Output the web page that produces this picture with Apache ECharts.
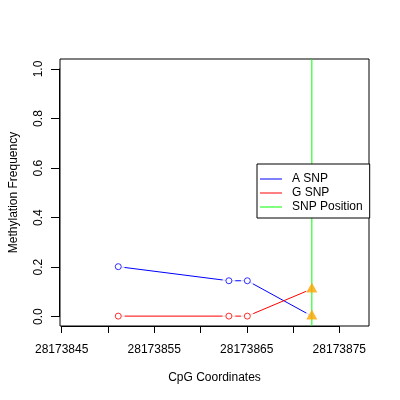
<!DOCTYPE html>
<html>
<head>
<meta charset="utf-8">
<script src="https://cdn.jsdelivr.net/npm/echarts@6/dist/echarts.min.js"></script>
<style>
html,body{margin:0;padding:0;background:#fff;}
#main{width:400px;height:400px;}
</style>
</head>
<body>
<div id="main"></div>
<script>
// data
var positions = [28173851, 28173863, 28173865, 28173872];
var aSnp = [0.2, 0.143, 0.143, 0.0];
var gSnp = [0.0, 0.0, 0.0, 0.11];
var snpPosition = 28173872;
var xTicks = [28173845, 28173855, 28173865, 28173875];
var yTicks = [0, 0.2, 0.4, 0.6, 0.8, 1.0];

var FONT = 'Liberation Sans';
var chart = echarts.init(document.getElementById('main'), null, {renderer: 'canvas'});

function pairs(xs, ys) {
    return xs.map(function (x, i) { return [x, ys[i]]; });
}
var last = positions.length - 1;
// R "b" type: open circles on all but the SNP point, triangle at the SNP
var aPts = pairs(positions, aSnp);
var gPts = pairs(positions, gSnp);
var aCircles = aPts.slice(0, last);
var gCircles = gPts.slice(0, last);
var snpMarks = [aPts[last], gPts[last]];

var xMin = 28173844.68, xMax = 28173878.2;
var yMin = -0.04, yMax = 1.04;

var option = {
    animation: false,
    backgroundColor: '#fff',
    textStyle: {fontFamily: FONT},
    grid: [
        // plot box
        {left: 59, right: 31, top: 59, bottom: 74, show: true, borderColor: '#000', borderWidth: 1, backgroundColor: 'transparent'},
        // x axis ticks (845..875)
        {left: 61.7, width: 277.6, top: 59, bottom: 74},
        // y axis ticks (0..1)
        {left: 59, right: 31, top: 69, bottom: 83.3}
    ],
    xAxis: [
        {gridIndex: 0, type: 'value', min: xMin, max: xMax,
         axisLine: {show: false}, axisTick: {show: false}, axisLabel: {show: false}, splitLine: {show: false},
         name: 'CpG Coordinates', nameLocation: 'middle', nameGap: 46,
         nameTextStyle: {fontFamily: FONT, fontSize: 12, color: '#000'}},
        {gridIndex: 1, type: 'value', min: xTicks[0], max: xTicks[xTicks.length - 1], interval: 5,
         axisLine: {show: true, lineStyle: {color: '#000', width: 1}},
         axisTick: {show: true, length: 7, lineStyle: {color: '#000'}},
         splitLine: {show: false},
         axisLabel: {show: true, margin: 18, fontFamily: FONT, fontSize: 12, color: '#000',
             formatter: function (v) { return xTicks.indexOf(v) >= 0 ? String(v) : ''; }}},
        {gridIndex: 2, type: 'value', show: false, min: 0, max: 1}
    ],
    yAxis: [
        {gridIndex: 0, type: 'value', min: yMin, max: yMax,
         axisLine: {show: false}, axisTick: {show: false}, axisLabel: {show: false}, splitLine: {show: false},
         name: 'Methylation Frequency', nameLocation: 'middle', nameGap: 40, nameRotate: 90,
         nameTextStyle: {fontFamily: FONT, fontSize: 12, color: '#000'}},
        {gridIndex: 1, type: 'value', show: false, min: 0, max: 1},
        {gridIndex: 2, type: 'value', min: yTicks[0], max: yTicks[yTicks.length - 1], interval: 0.2,
         axisLine: {show: true, lineStyle: {color: '#000', width: 1}},
         axisTick: {show: true, length: 8, lineStyle: {color: '#000'}},
         splitLine: {show: false},
         axisLabel: {show: true, rotate: 90, margin: 14, fontFamily: FONT, fontSize: 12, color: '#000',
             formatter: function (v) { return v.toFixed(1); }}}
    ],
    legend: {
        orient: 'vertical',
        left: 257, top: 164,
        backgroundColor: '#fff',
        borderColor: '#000', borderWidth: 1, borderRadius: 0,
        padding: [8, 7, 4, 3],
        itemGap: 0,
        itemWidth: 22, itemHeight: 1,
        icon: 'rect',
        textStyle: {fontFamily: FONT, fontSize: 12, color: '#000', lineHeight: 14, padding: [0, 0, 0, 5]},
        data: ['A SNP', 'G SNP', 'SNP Position']
    },
    series: [
        {name: 'A SNP', type: 'line', xAxisIndex: 0, yAxisIndex: 0, z: 2,
         data: aPts, symbol: 'none',
         itemStyle: {color: '#0000ff'}, lineStyle: {color: '#0000ff', width: 1},
         emphasis: {disabled: true}},
        {name: 'G SNP', type: 'line', xAxisIndex: 0, yAxisIndex: 0, z: 2,
         data: gPts, symbol: 'none',
         itemStyle: {color: '#ff0000'}, lineStyle: {color: '#ff0000', width: 1},
         emphasis: {disabled: true}},
        // white halos leave gaps in the lines around each point
        {type: 'scatter', xAxisIndex: 0, yAxisIndex: 0, z: 2.5, silent: true,
         data: aPts.concat(gPts), symbol: 'circle', symbolSize: 13,
         itemStyle: {color: '#fff'}},
        {name: 'SNP Position', type: 'line', xAxisIndex: 0, yAxisIndex: 0, z: 3,
         data: [[snpPosition, yMin], [snpPosition, yMax]], symbol: 'none',
         itemStyle: {color: '#00ff00'}, lineStyle: {color: '#00ff00', width: 1},
         emphasis: {disabled: true}},
        {type: 'scatter', xAxisIndex: 0, yAxisIndex: 0, z: 4, silent: true,
         data: aCircles, symbol: 'circle', symbolSize: 6,
         itemStyle: {color: '#fff', borderColor: '#0000ff', borderWidth: 1}},
        {type: 'scatter', xAxisIndex: 0, yAxisIndex: 0, z: 4, silent: true,
         data: gCircles, symbol: 'circle', symbolSize: 6,
         itemStyle: {color: '#fff', borderColor: '#ff0000', borderWidth: 1}},
        {type: 'scatter', xAxisIndex: 0, yAxisIndex: 0, z: 4, silent: true,
         data: snpMarks, symbol: 'triangle', symbolSize: [11, 10], symbolOffset: [0, -1.5],
         itemStyle: {color: '#ffa500'}}
    ]
};
chart.setOption(option);
</script>
</body>
</html>
